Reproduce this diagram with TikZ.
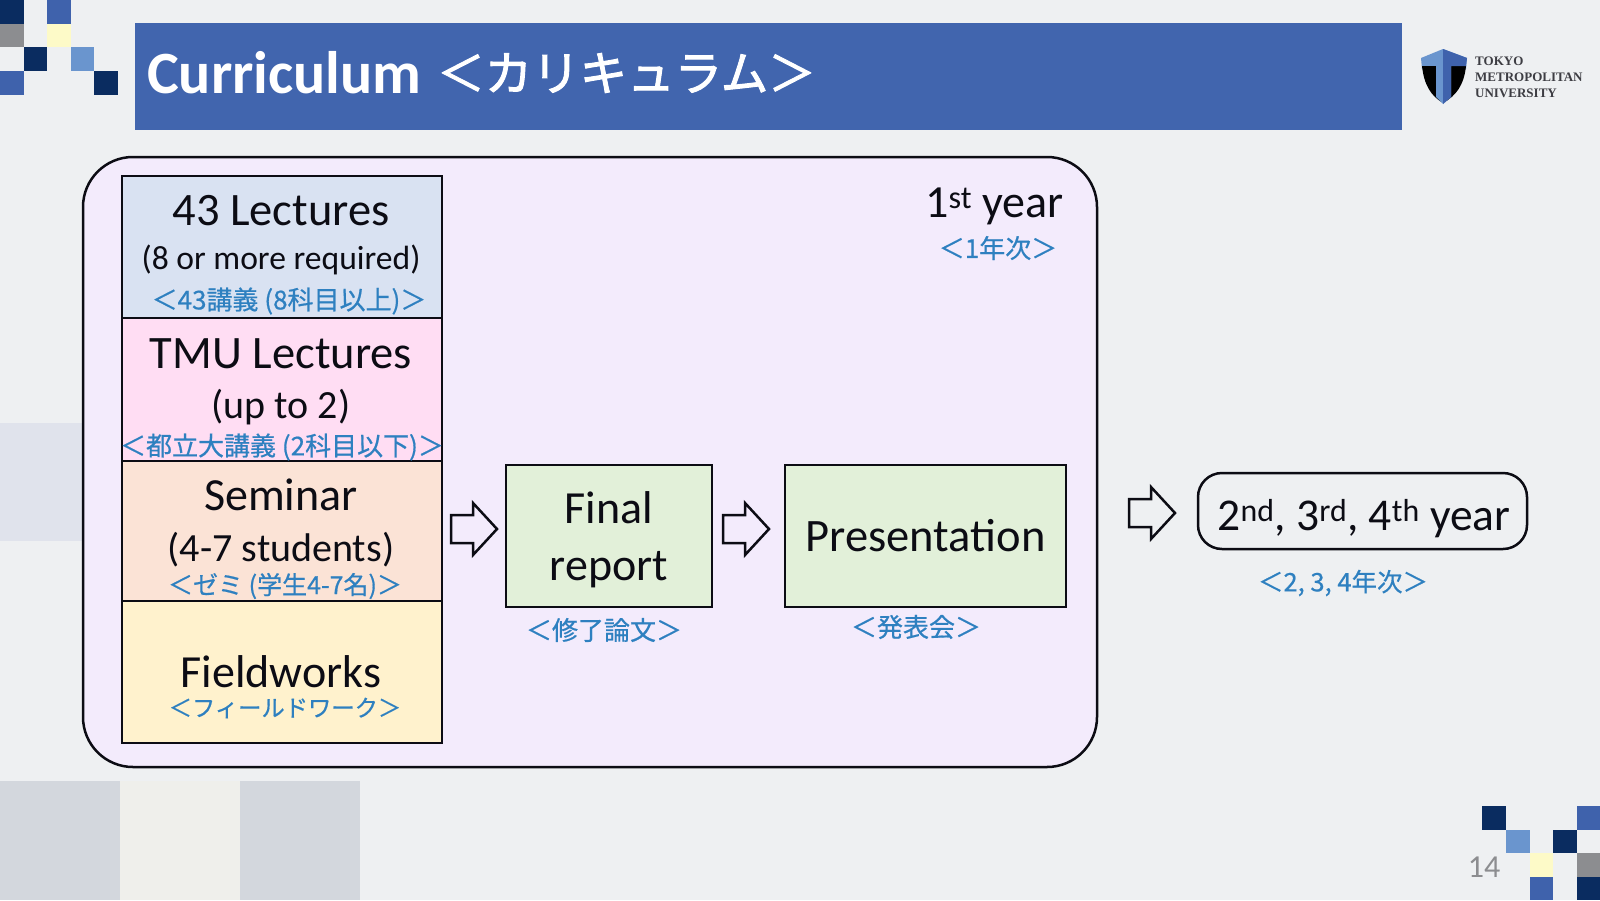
\documentclass[tikz,border=0pt]{standalone}
\usepackage{fontspec}
\setmainfont{Carlito}
\newfontfamily\jp{Noto Sans CJK JP}[FakeBold=0.6]
\newfontfamily\jptitle{Noto Sans CJK JP}[FakeBold=2]
\newfontfamily\logofont{Liberation Serif}
\definecolor{bgc}{HTML}{EEF0F2}
\definecolor{titleblue}{HTML}{4165AE}
\definecolor{dk}{HTML}{0A2C60}
\definecolor{mid}{HTML}{3F62AC}
\definecolor{lt}{HTML}{6A95CE}
\definecolor{yl}{HTML}{FDFAC8}
\definecolor{gy}{HTML}{8C8D90}
\definecolor{panel}{HTML}{F3EBFC}
\definecolor{jblue}{HTML}{2E80C0}
\definecolor{ink}{HTML}{0C0C14}
\definecolor{paleA}{HTML}{E0E3EC}
\definecolor{paleB}{HTML}{D3D7DD}
\definecolor{paleC}{HTML}{EFEFEB}
\definecolor{cellA}{HTML}{D9E2F2}
\definecolor{cellB}{HTML}{FFDDF3}
\definecolor{cellC}{HTML}{FBE3D6}
\definecolor{cellD}{HTML}{FFF2CD}
\definecolor{cellE}{HTML}{E2F0D9}
\tikzset{
  x=1pt,y=-1pt,
  sq/.style={fill=#1,draw=none},
  cell/.style={draw=ink,line width=2.5pt,fill=#1},
  en/.style={text=ink,inner sep=0pt,align=center},
  ja/.style={text=jblue,inner sep=0pt,align=center},
  blockarrow/.style={draw=ink,line width=2.5pt,miter limit=10},
}
\newcommand{\fs}[1]{\fontsize{#1}{#1}\selectfont}
\newcommand{\jpt}[1]{\fontsize{#1}{#1}\selectfont\jp}
% block arrow: shaft start x, centre y
\newcommand{\blockarr}[2]{\draw[blockarrow] (#1,#2-14) -- (#1+22,#2-14) -- (#1+22,#2-26) -- (#1+46,#2) -- (#1+22,#2+26) -- (#1+22,#2+14) -- (#1,#2+14) -- cycle;}
\begin{document}
\begin{tikzpicture}
\useasboundingbox (0,0) rectangle (1600,900);
\fill[bgc] (0,0) rectangle (1600,900);
% pale background blocks
\fill[sq=paleA] (0,423) rectangle (84,541);
\fill[sq=paleB] (0,781) rectangle (120,900);
\fill[sq=paleC] (120,781) rectangle (240,900);
\fill[sq=paleB] (240,781) rectangle (360,900);
% top-left squares
\fill[sq=dk] (0,0) rectangle (24,24);
\fill[sq=mid] (47,0) rectangle (71,24);
\fill[sq=gy] (0,24) rectangle (24,47);
\fill[sq=yl] (47,24) rectangle (71,47);
\fill[sq=dk] (24,47) rectangle (47,71);
\fill[sq=lt] (71,47) rectangle (94,71);
\fill[sq=dk] (94,71) rectangle (118,95);
\fill[sq=mid] (0,71) rectangle (24,95);
% bottom-right squares
\fill[sq=dk] (1482,806) rectangle (1506,830);
\fill[sq=lt] (1506,830) rectangle (1530,853);
\fill[sq=dk] (1553,830) rectangle (1577,853);
\fill[sq=mid] (1577,806) rectangle (1600,830);
\fill[sq=gy] (1577,853) rectangle (1600,877);
\fill[sq=yl] (1530,853) rectangle (1553,877);
\fill[sq=mid] (1530,877) rectangle (1553,900);
\fill[sq=dk] (1577,877) rectangle (1600,900);
\node[text=gy,inner sep=0pt] (pageno) at (1484,867) {\fs{32}14};
% title
\fill[titleblue] (135,23) rectangle (1402,130);
\node[anchor=west,text=white,inner sep=0pt] (title) at (147,73) {\fs{60}\bfseries Curriculum};
\node[anchor=west,text=white,inner sep=0pt] (titlej) at (437,73) {\fs{47.5}\jptitle ＜カリキュラム＞};
% logo
\fill[lt] (1443,49) -- (1421,58) -- (1422,69) -- (1466,69) -- (1467,58) -- cycle;
\fill[black] (1422,66) .. controls (1424,85) and (1431,96) .. (1443,103) -- (1443,66) -- cycle;
\fill[black] (1466,66) .. controls (1464,85) and (1456,96) .. (1443,103) -- (1443,66) -- cycle;
\fill[lt] (1436,60) -- (1451,60) -- (1451,97) -- (1443,104) -- (1436,97) -- cycle;
\fill[mid] (1443,49) -- (1467,58) -- (1466,66) -- (1451,66) -- (1451,97) -- (1443,104) -- cycle;
\node[anchor=west,inner sep=0pt,align=left,text=ink!80,font=\logofont\bfseries\fontsize{13}{16}\selectfont] (logo) at (1475,77) {TOKYO\\METROPOLITAN\\UNIVERSITY};
% panel
\draw[draw=ink,line width=2.5pt,fill=panel,rounded corners=50pt] (83,157) rectangle (1097,767);
% stacked cells
\node[cell=cellA,minimum width=320pt,minimum height=142pt,inner sep=0pt] (c1) at (282,247) {};
\node[cell=cellB,minimum width=320pt,minimum height=143pt,inner sep=0pt] (c2) at (282,389.5) {};
\node[cell=cellC,minimum width=320pt,minimum height=140pt,inner sep=0pt] (c3) at (282,531) {};
\node[cell=cellD,minimum width=320pt,minimum height=142pt,inner sep=0pt] (c4) at (282,672) {};
\node[en] (t1a) at (281,211) {\fs{46.5}43 Lectures};
\node[en] (t1b) at (281,260) {\fs{33.6}(8 or more required)};
\node[ja] (t1c) at (289,301) {\jpt{26}＜43講義 (8科目以上)＞};
\node[en] (t2a) at (281,354) {\fs{46.5}TMU Lectures};
\node[en] (t2b) at (281,407) {\fs{40}(up to 2)};
\node[ja] (t2c) at (282,447) {\jpt{26}＜都立大講義 (2科目以下)＞};
\node[en] (t3a) at (281,495) {\fs{46}Seminar};
\node[en] (t3b) at (281,550) {\fs{40}(4-7 students)};
\node[ja] (t3c) at (285,586) {\jpt{25}＜ゼミ (学生4-7名)＞};
\node[en] (t4a) at (281,672) {\fs{46}Fieldworks};
\node[ja] (t4c) at (285,708) {\jpt{23.3}＜フィールドワーク＞};
% final report and presentation
\node[cell=cellE,minimum width=206pt,minimum height=142pt,inner sep=0pt] (rep) at (609,536) {};
\node[en,font=\fontsize{46}{57}\selectfont] (reptext) at (609,540) {Final\\report};
\node[cell=cellE,minimum width=281pt,minimum height=142pt,inner sep=0pt,text=ink] (pres) at (925.5,536) {\fs{46.5}Presentation};
\node[ja] (t5) at (604,630) {\jpt{26}＜修了論文＞};
\node[ja] (t6) at (916,627) {\jpt{26}＜発表会＞};
% year labels
\node[en,anchor=east] (y1) at (1064,206) {\fs{46}1\textsuperscript{st} year};
\node[ja] (y1j) at (998,248) {\jpt{26}＜1年次＞};
\node[draw=ink,line width=2.5pt,rounded corners=24pt,minimum width=329pt,minimum height=76pt,inner sep=0pt] (next) at (1362.5,511) {};
\node[en] (nexttext) at (1364,519) {\fs{45.5}2\textsuperscript{nd}, 3\textsuperscript{rd}, 4\textsuperscript{th} year};
\node[ja] (nextj) at (1343,583) {\jpt{25.5}＜2, 3, 4年次＞};
% block arrows
\blockarr{451}{529}
\blockarr{723}{529}
\blockarr{1129}{513}
\end{tikzpicture}
\end{document}
